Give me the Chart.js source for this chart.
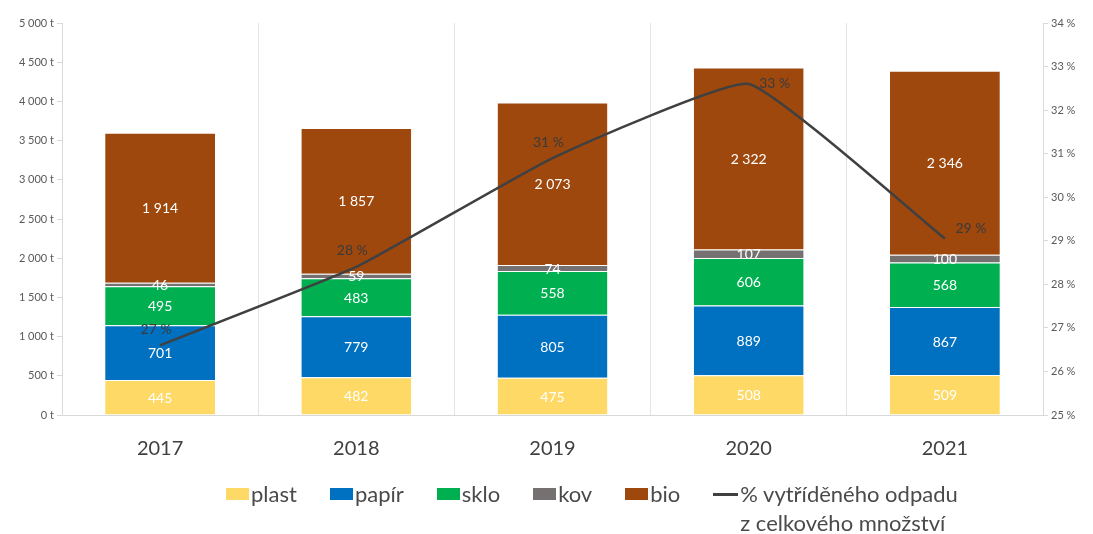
<!DOCTYPE html>
<html>
<head>
<meta charset="utf-8">
<script src="https://cdn.jsdelivr.net/npm/chart.js@4/dist/chart.umd.min.js"></script>
<style>
  html, body { margin:0; padding:0; background:#fff; }
  #wrap { position:relative; width:1093px; height:534px; }
  #legend { position:absolute; left:226px; top:479px; font-family:Lato, "Open Sans", sans-serif; font-size:22px; color:#4a4a4a; display:flex; align-items:flex-start; }
  .lg-item { display:flex; align-items:flex-start; margin-right:33px; line-height:29px; }
  .lg-box { width:23px; height:12px; margin:9px 2px 0 0; }
  .lg-line { width:25px; height:3px; margin:14px 2px 0 0; background:#404040; }
</style>
</head>
<body>
<div id="wrap">
  <canvas id="c" width="1093" height="534"></canvas>
  <div id="legend"></div>
</div>
<script>
const years = ['2017','2018','2019','2020','2021'];
const plast = [445, 482, 475, 508, 509];
const papir = [701, 779, 805, 889, 867];
const sklo  = [495, 483, 558, 606, 568];
const kov   = [46, 59, 74, 107, 100];
const bio   = [1914, 1857, 2073, 2322, 2346];
const podil = [26.6, 28.4, 30.9, 32.6, 29.05];   // % vytříděného odpadu
const podilLabels = ['27 %', '28 %', '31 %', '33 %', '29 %'];

const SERIES = [
  { label:'plast', data:plast, color:'#FFD966' },
  { label:'papír', data:papir, color:'#0070C0' },
  { label:'sklo',  data:sklo,  color:'#00B050' },
  { label:'kov',   data:kov,   color:'#767171' },
  { label:'bio',   data:bio,   color:'#9E480E' }
];
const LINE_LABEL = ['% vytříděného odpadu', 'z celkového množství'];

const FONT = 'Lato, "Open Sans", sans-serif';

function fmt(n) {
  return String(n).replace(/\B(?=(\d{3})+(?!\d))/g, ' ');
}

const labelPlugin = {
  id:'valueLabels',
  afterDatasetsDraw(chart) {
    const ctx = chart.ctx;
    ctx.save();
    ctx.textAlign = 'center';
    ctx.textBaseline = 'middle';
    chart.data.datasets.forEach((ds, di) => {
      const meta = chart.getDatasetMeta(di);
      if (ds.type === 'line') {
        ctx.font = '14px ' + FONT;
        ctx.fillStyle = '#3a3a3a';
        const pos = ['top','top','top','right','right'];
        meta.data.forEach((pt, i) => {
          let x = pt.x, y = pt.y;
          if (pos[i] === 'top') { y -= 16; x -= 4; }
          else { x += 26; y -= (i === 4 ? 10 : 0); }
          ctx.fillText(podilLabels[i], x, y);
        });
      } else {
        ctx.font = '14px ' + FONT;
        ctx.fillStyle = '#ffffff';
        meta.data.forEach((bar, i) => {
          ctx.fillText(fmt(ds.data[i]), bar.x, (bar.y + bar.base) / 2 + 1);
        });
      }
    });
    ctx.restore();
  }
};

const datasets = SERIES.map(s => ({
  label:s.label, data:s.data, backgroundColor:s.color,
  borderColor:'rgba(255,255,255,0.45)', borderWidth:{top:1, bottom:0, left:0, right:0},
  borderSkipped:false, yAxisID:'y', stack:'odpad', order:2,
  categoryPercentage:1, barPercentage:0.56
}));
datasets.push({
  type:'line', label:LINE_LABEL.join(' '), data:podil, yAxisID:'y1',
  borderColor:'#404040', borderWidth:2.5, pointRadius:0, tension:0.12, fill:false, order:1
});

new Chart(document.getElementById('c'), {
  type:'bar',
  data:{ labels:years, datasets:datasets },
  plugins:[labelPlugin],
  options:{
    responsive:false, animation:false,
    layout:{ padding:{ top:23, bottom:64, left:0, right:0 } },
    plugins:{ legend:{display:false}, tooltip:{enabled:false} },
    scales:{
      x:{
        stacked:true,
        grid:{ color:'#e4e4e4', drawTicks:false, offset:true },
        border:{ color:'#d9d9d9' },
        ticks:{ color:'#404040', font:{ size:20, family:FONT }, padding:22 },
        afterFit:s => { s.height = 55; }
      },
      y:{
        stacked:true, min:0, max:5000,
        grid:{ drawOnChartArea:false, tickLength:5, color:'#d9d9d9' },
        border:{ color:'#d9d9d9' },
        ticks:{ stepSize:500, color:'#595959', font:{ size:11, family:FONT }, padding:3,
          callback:v => fmt(v) + ' t' },
        afterFit:s => { s.width = 62; }
      },
      y1:{
        position:'right', min:25, max:34,
        grid:{ drawOnChartArea:false, tickLength:5, color:'#d9d9d9' },
        border:{ color:'#d9d9d9' },
        ticks:{ stepSize:1, color:'#595959', font:{ size:11, family:FONT }, padding:3,
          callback:v => v + ' %' },
        afterFit:s => { s.width = 50; }
      }
    }
  }
});

// legend
const legend = document.getElementById('legend');
SERIES.forEach(s => {
  const d = document.createElement('div'); d.className = 'lg-item';
  d.innerHTML = '<span class="lg-box" style="background:' + s.color + '"></span>' + s.label;
  legend.appendChild(d);
});
const ld = document.createElement('div'); ld.className = 'lg-item';
ld.innerHTML = '<span class="lg-line"></span><span>' + LINE_LABEL.join('<br>') + '</span>';
legend.appendChild(ld);
</script>
</body>
</html>
